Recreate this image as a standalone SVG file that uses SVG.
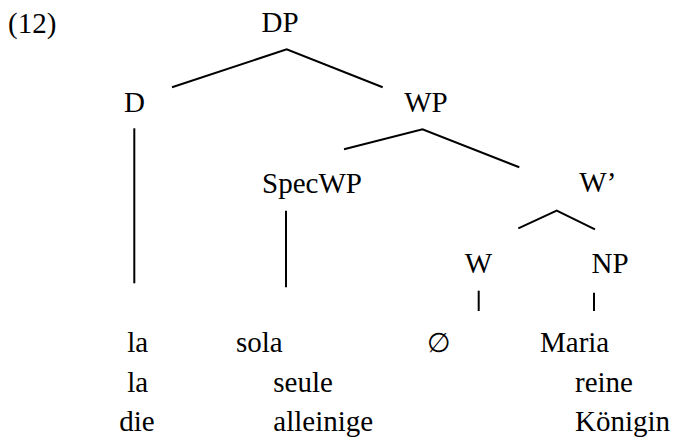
<svg xmlns="http://www.w3.org/2000/svg" width="673" height="441" viewBox="0 0 673 441" font-family="'Liberation Serif', Tinos, 'Times New Roman', Times, serif" font-size="29">
  <style>
    text { font-family: "Liberation Serif", Tinos, "Times New Roman", Times, serif; font-size: 29px; fill: #000; }
    .c { text-anchor: middle; }
    .sym { font-family: "DejaVu Serif", "Liberation Serif", serif; font-size: 27px; }
    .edge { stroke: #000; stroke-width: 2; fill: none; stroke-linecap: butt; stroke-linejoin: miter; }
  </style>
  <rect width="673" height="441" fill="#fff"/>

  <text x="8" y="33">(12)</text>

  <!-- branches of the tree -->
  <g id="connectors">
    <polyline class="edge" points="172,87.3 286.7,49.3 382.7,87.3"/>
    <polyline class="edge" points="344,149.3 422.5,129.2 519.3,167.3"/>
    <polyline class="edge" points="518.3,228.3 556.7,210.7 595,229.3"/>
    <line class="edge" x1="134.3" y1="128.3" x2="134.3" y2="283.3"/>
    <line class="edge" x1="286" y1="210.7" x2="286" y2="287.3"/>
    <line class="edge" x1="478.7" y1="290.7" x2="478.7" y2="311"/>
    <line class="edge" x1="594" y1="292.7" x2="594" y2="311"/>
  </g>

  <!-- category labels -->
  <g id="node-DP"><text class="c" x="280" y="32">DP</text></g>
  <g id="node-D"><text class="c" x="134.5" y="112">D</text></g>
  <g id="node-WP"><text class="c" x="426" y="112">WP</text></g>
  <g id="node-SpecWP"><text class="c" x="312" y="193">SpecWP</text></g>
  <g id="node-Wbar"><text x="579.3" y="192">W’</text></g>
  <g id="node-W"><text class="c" x="478.5" y="273">W</text></g>
  <g id="node-NP"><text class="c" x="610" y="273">NP</text></g>

  <!-- terminal words with French and German glosses -->
  <g id="leaf-la">
    <text x="127.3" y="352">la</text>
    <text x="127.3" y="392">la</text>
    <text x="119.3" y="431">die</text>
  </g>
  <g id="leaf-sola">
    <text x="236" y="352">sola</text>
    <text x="273.3" y="392">seule</text>
    <text x="273.3" y="431">alleinige</text>
  </g>
  <g id="leaf-empty">
    <text class="sym" x="426.7" y="352">∅</text>
  </g>
  <g id="leaf-Maria">
    <text x="540" y="352">Maria</text>
    <text x="575" y="392">reine</text>
    <text x="575" y="431">Königin</text>
  </g>
</svg>
